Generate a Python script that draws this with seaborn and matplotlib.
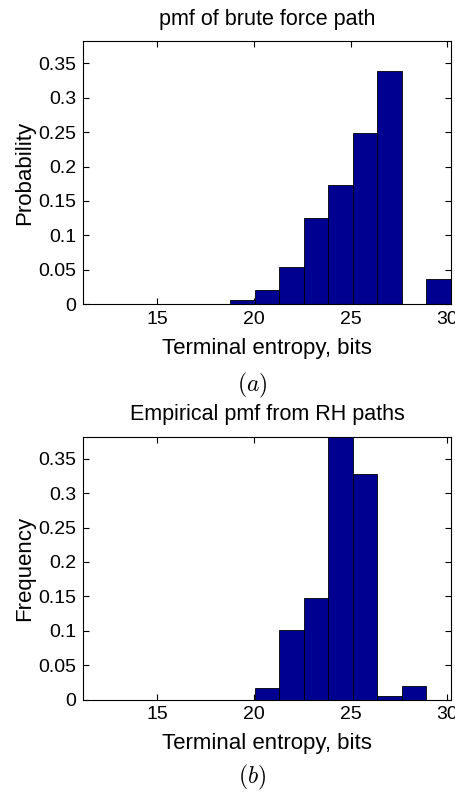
import numpy as np
import pandas as pd
import seaborn as sns
import matplotlib.pyplot as plt

# histogram bins (15 equal bins between the data limits)
X_MIN, X_MAX, N_BINS = 11.15, 30.2, 15
edges = np.linspace(X_MIN, X_MAX, N_BINS + 1)
centers = (edges[:-1] + edges[1:]) / 2

# (a) brute force path pmf, one value per bin
pmf_brute = [0, 0, 0, 0, 0, 0, 0.006, 0.020, 0.054, 0.125, 0.173, 0.249, 0.339, 0, 0.036]
# (b) empirical pmf from RH paths
pmf_rh = [0, 0, 0, 0, 0, 0, 0, 0.017, 0.101, 0.148, 0.382, 0.328, 0.005, 0.020, 0]

panels = [
    ("pmf of brute force path", "Probability", pmf_brute, "$(a)$"),
    ("Empirical pmf from RH paths", "Frequency", pmf_rh, "$(b)$"),
]

sns.set_style("ticks")
plt.rcParams["font.family"] = ["Liberation Sans", "DejaVu Sans"]
plt.rcParams["mathtext.fontset"] = "cm"
plt.rcParams["text.color"] = "black"
plt.rcParams["axes.labelcolor"] = "black"

fig = plt.figure(figsize=(4.56, 7.94), dpi=100)
ax_pos = [[0.182, 0.617, 0.807, 0.331], [0.182, 0.119, 0.807, 0.331]]
caption_y = [0.515, 0.0214]

for (title, ylabel, vals, cap), pos, cy in zip(panels, ax_pos, caption_y):
    ax = fig.add_axes(pos)
    df = pd.DataFrame({"entropy": centers, "p": vals})
    sns.histplot(
        data=df, x="entropy", weights="p", bins=N_BINS,
        binrange=(X_MIN, X_MAX), ax=ax,
        color="#000090", alpha=1, edgecolor="black", linewidth=0.6,
    )
    ax.set_xlim(X_MIN, X_MAX)
    ax.set_ylim(0, 0.382)
    ax.set_xticks([15, 20, 25, 30])
    ax.set_yticks(np.arange(0, 0.36, 0.05))
    ax.set_yticklabels(["0", "0.05", "0.1", "0.15", "0.2", "0.25", "0.3", "0.35"])
    ax.tick_params(direction="in", bottom=True, left=True, top=True, right=True,
                   length=4.5, width=0.8, labelsize=14, pad=5,
                   colors="black", labelcolor="black")
    for s in ax.spines.values():
        s.set_visible(True)
        s.set_linewidth(0.8)
        s.set_color("black")
    ax.set_title(title, fontsize=15.5, pad=12, color="black")
    ax.set_xlabel("Terminal entropy, bits", fontsize=16, labelpad=7)
    ax.set_ylabel(ylabel, fontsize=16, labelpad=2)
    fig.text(0.553, cy, cap, fontsize=17, ha="center", va="center")

fig.savefig("out.png", dpi=100)
